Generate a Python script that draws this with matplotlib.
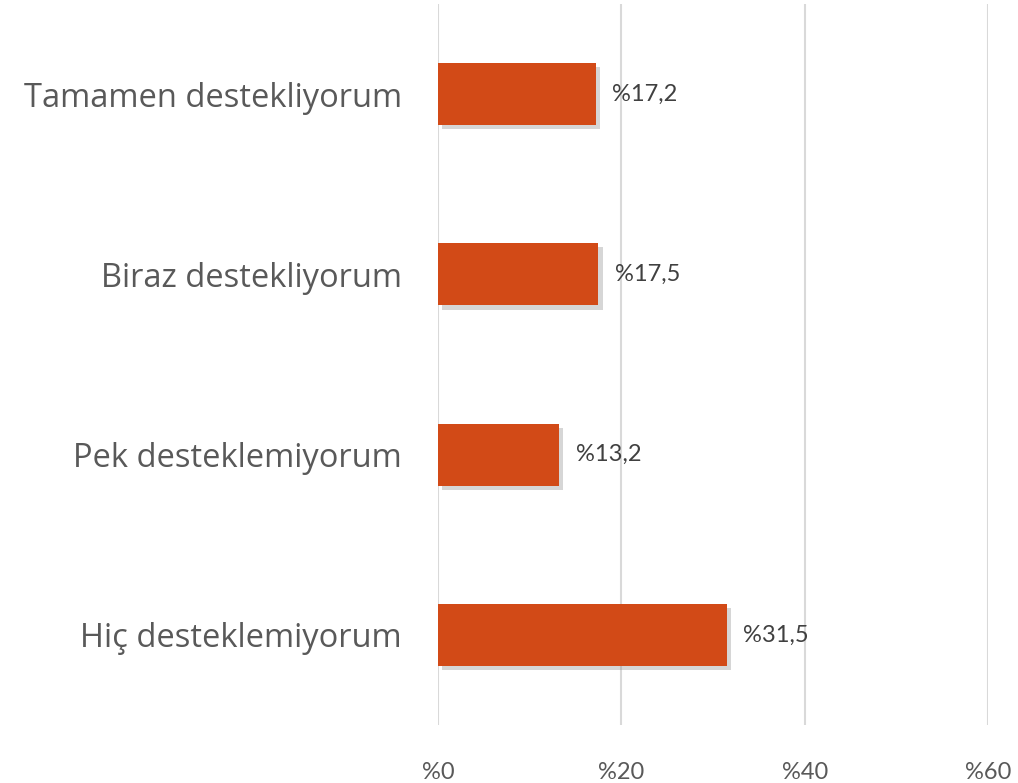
import matplotlib
matplotlib.use("Agg")
import matplotlib.pyplot as plt
import matplotlib.patheffects as pe

categories = ["Hiç desteklemiyorum", "Pek desteklemiyorum", "Biraz destekliyorum", "Tamamen destekliyorum"]
values = [31.5, 13.2, 17.5, 17.2]
value_labels = ["%31,5", "%13,2", "%17,5", "%17,2"]
xticks = [0, 20, 40, 60]
xtick_labels = ["%0", "%20", "%40", "%60"]

fig = plt.figure(figsize=(10.18, 7.83), dpi=100)
ax = fig.add_axes([0.4303, 0.0741, 0.5402, 0.9208])

# soft grey drop shadow like the office chart
shadow = [pe.SimplePatchShadow(offset=(3, -3), shadow_rgbFace="#8c8c8c", alpha=0.35), pe.Normal()]
bars = ax.barh(range(len(categories)), values, height=0.345, color="#D24A17", zorder=3)
for b in bars:
    b.set_path_effects(shadow)

for i, (v, lab) in enumerate(zip(values, value_labels)):
    ax.annotate(lab, (v, i), xytext=(12, 0), textcoords="offset points",
                va="center", ha="left", fontsize=17, color="#404040", family="Lato")

ax.set_xlim(0, 60)
ax.set_ylim(-0.5, 3.5)
ax.set_xticks(xticks)
ax.set_xticklabels(xtick_labels, fontsize=17, color="#595959", family="Lato")
ax.set_yticks(range(len(categories)))
ax.set_yticklabels(categories, fontsize=23.5, color="#595959", family="Open Sans")
ax.tick_params(axis="x", length=0, pad=27)
ax.tick_params(axis="y", length=0, pad=26)
ax.grid(axis="x", color="#d9d9d9", linewidth=1.5, zorder=0)
for s in ax.spines.values():
    s.set_visible(False)

fig.savefig("out.png", dpi=100)
